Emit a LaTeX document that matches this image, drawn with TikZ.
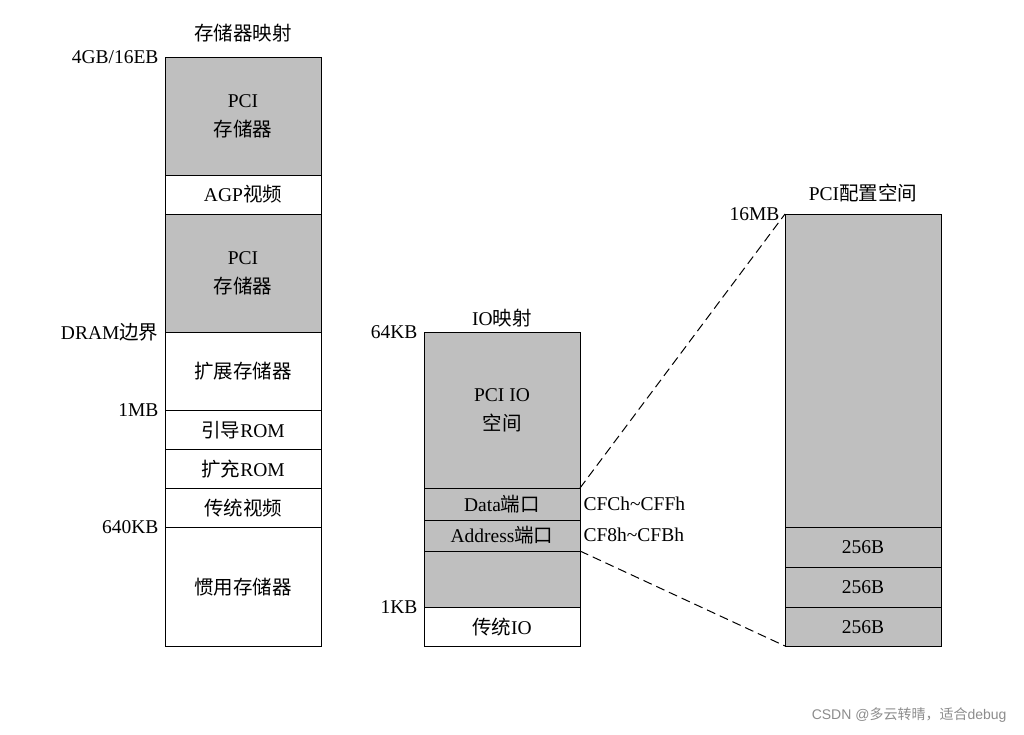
\documentclass[tikz,border=0pt]{standalone}
\usepackage{fontspec}
\setmainfont{Liberation Serif}
\newfontfamily\cjk{Noto Sans CJK SC}
\newfontfamily\wm{Liberation Sans}
\begin{document}
\begin{tikzpicture}[x=1pt,y=-1pt,
  seg/.style={draw=black,line width=1pt},
  g/.style={seg,fill=black!25},
  w/.style={seg,fill=white},
  lab/.style={font=\fontsize{19.5}{29}\selectfont,align=center},
  rl/.style={lab,anchor=east},
  ll/.style={lab,anchor=west}]
\useasboundingbox (0,0) rectangle (1024,734);
% left column
\draw[g] (165,57) rectangle (321,175);
\draw[w] (165,175) rectangle (321,214);
\draw[g] (165,214) rectangle (321,332);
\draw[w] (165,332) rectangle (321,410);
\draw[w] (165,410) rectangle (321,449);
\draw[w] (165,449) rectangle (321,488);
\draw[w] (165,488) rectangle (321,527);
\draw[w] (165,527) rectangle (321,646);
\node[lab] (l1) at (243,116) {PCI\\{\cjk 存储器}};
\node[lab] (l2) at (243,194) {AGP{\cjk 视频}};
\node[lab] (l3) at (243,273) {PCI\\{\cjk 存储器}};
\node[lab] (l4) at (243,371) {\cjk 扩展存储器};
\node[lab] (l5) at (243,430) {{\cjk 引导}ROM};
\node[lab] (l6) at (243,469) {{\cjk 扩充}ROM};
\node[lab] (l7) at (243,508) {\cjk 传统视频};
\node[lab] (l8) at (243,587) {\cjk 惯用存储器};
\node[lab] (t1) at (243,33) {\cjk 存储器映射};
\node[rl] (a1) at (162,57) {4GB/16EB};
\node[rl] (a2) at (162,332) {DRAM{\cjk 边界}};
\node[rl] (a3) at (162,410) {1MB};
\node[rl] (a4) at (162,527) {640KB};
% middle column
\draw[g] (424,332) rectangle (580,488);
\draw[g] (424,488) rectangle (580,520);
\draw[g] (424,520) rectangle (580,551);
\draw[g] (424,551) rectangle (580,607);
\draw[w] (424,607) rectangle (580,646);
\node[lab] (m1) at (502,410) {PCI IO\\{\cjk 空间}};
\node[lab] (m2) at (502,504) {Data{\cjk 端口}};
\node[lab] (m3) at (502,535) {Address{\cjk 端口}};
\node[lab] (m4) at (502,627) {{\cjk 传统}IO};
\node[lab] (t2) at (502,318) {IO{\cjk 映射}};
\node[rl] (b1) at (421,332) {64KB};
\node[rl] (b2) at (421,607) {1KB};
\node[ll] (c1) at (580,504) {CFCh\textasciitilde CFFh};
\node[ll] (c2) at (580,535) {CF8h\textasciitilde CFBh};
% right column
\draw[g] (785,214) rectangle (941,527);
\draw[g] (785,527) rectangle (941,567);
\draw[g] (785,567) rectangle (941,607);
\draw[g] (785,607) rectangle (941,646);
\node[lab] (r1) at (863,547) {256B};
\node[lab] (r2) at (863,587) {256B};
\node[lab] (r3) at (863,627) {256B};
\node[lab] (t3) at (863,193) {PCI{\cjk 配置空间}};
\node[rl] (d1) at (783,214) {16MB};
\coordinate (p1) at (580,488);
\coordinate (p2) at (785,214);
\coordinate (p3) at (580,551);
\coordinate (p4) at (785,646);
\draw[dash pattern=on 9pt off 5pt,line width=1pt] (p1) -- (p2);
\draw[dash pattern=on 9pt off 5pt,line width=1pt] (p3) -- (p4);
\node[anchor=east,text=black!45,font=\fontsize{14}{16}\selectfont] (wm) at (1010,715) {\wm CSDN @{\cjk 多云转晴，适合}debug};
\end{tikzpicture}
\end{document}
